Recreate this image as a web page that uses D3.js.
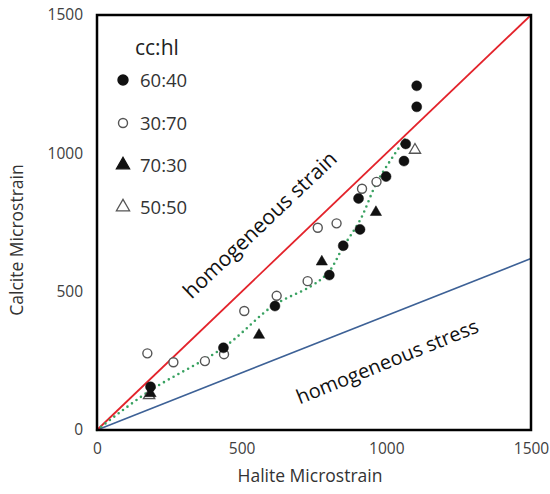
<!DOCTYPE html>
<html>
<head>
<meta charset="utf-8">
<script src="https://cdn.jsdelivr.net/npm/d3@7"></script>
<style>
  body { margin: 0; background: #fff; }
  svg text { font-family: "Open Sans", sans-serif; }
</style>
</head>
<body>
<div id="chart"></div>
<script>
// values
var series = ["60:40", "30:70", "70:30", "50:50"];
var ticks = [0, 500, 1000, 1500];

var filledCircles = [[185, 156], [437, 297], [615, 448], [803, 560], [851, 666], [909, 725],
  [904, 837], [999, 916], [1061, 972], [1067, 1034], [1105, 1168], [1105, 1244]];
var openCircles = [[174, 277], [264, 245], [373, 249], [439, 274], [509, 430], [621, 485],
  [728, 538], [763, 731], [828, 747], [916, 872], [966, 897]];
var filledTriangles = [[185, 132], [560, 343], [777, 608], [964, 787]];
var openTriangles = [[180, 125], [1099, 1012]];

var trend = [[0, 0], [180, 140], [440, 300], [610, 450], [740, 520], [800, 570],
  [850, 660], [910, 760], [970, 900], [1070, 1060]];

var strainLine = [[0, 0], [1500, 1500]];
var stressLine = [[0, 0], [1500, 620]];

var width = 550, height = 494;

var svg = d3.select('#chart').append('svg')
  .attr('width', width)
  .attr('height', height);

var x = d3.scaleLinear().domain([0, 1500]).range([97, 531]);
var y = d3.scaleLinear().domain([0, 1500]).range([430, 15]);

var line = d3.line()
  .x(function(d) { return x(d[0]); })
  .y(function(d) { return y(d[1]); });

// axes (labels only)
var xAxis = svg.append('g')
  .attr('transform', 'translate(0,430)')
  .call(d3.axisBottom(x).tickValues(ticks).tickSize(0).tickPadding(13).tickFormat(d3.format('d')));
var yAxis = svg.append('g')
  .attr('transform', 'translate(97,0)')
  .call(d3.axisLeft(y).tickValues(ticks).tickSize(0).tickPadding(14).tickFormat(d3.format('d')));
[xAxis, yAxis].forEach(function(a) {
  a.select('.domain').remove();
  a.selectAll('text').style('font-size', '15.5px').attr('fill', '#404040')
    .style('font-family', '"Open Sans", sans-serif');
});

// reference lines
svg.append('path').attr('d', line(stressLine))
  .attr('stroke', '#3d6196').attr('stroke-width', 1.6).attr('fill', 'none');
svg.append('path').attr('d', line(strainLine))
  .attr('stroke', '#e3232b').attr('stroke-width', 1.8).attr('fill', 'none');

// trend curve
svg.append('path')
  .attr('d', line.curve(d3.curveCatmullRom)(trend))
  .attr('stroke', '#3aa262').attr('stroke-width', 2.6)
  .attr('stroke-dasharray', '0,5.5').attr('stroke-linecap', 'round')
  .attr('fill', 'none');

var tri = d3.symbol().type(d3.symbolTriangle).size(55);

function drawCircles(data, filled) {
  svg.append('g').selectAll('circle').data(data).enter().append('circle')
    .attr('cx', function(d) { return x(d[0]); })
    .attr('cy', function(d) { return y(d[1]); })
    .attr('r', filled ? 5 : 4.5)
    .attr('fill', filled ? '#111' : '#fff')
    .attr('stroke', filled ? '#111' : '#555')
    .attr('stroke-width', filled ? 0.5 : 1.4);
}
function drawTriangles(data, filled) {
  svg.append('g').selectAll('path').data(data).enter().append('path')
    .attr('d', tri)
    .attr('transform', function(d) { return 'translate(' + x(d[0]) + ',' + y(d[1]) + ')'; })
    .attr('fill', filled ? '#111' : '#fff')
    .attr('stroke', filled ? '#111' : '#555')
    .attr('stroke-width', filled ? 0.5 : 1.3);
}
drawCircles(openCircles, false);
drawTriangles(openTriangles, false);
drawTriangles(filledTriangles, true);
drawCircles(filledCircles, true);

// line labels
svg.append('text')
  .attr('transform', 'translate(265,230) rotate(-43.5)')
  .attr('text-anchor', 'middle')
  .style('font-size', '21px').attr('fill', '#111')
  .text('homogeneous strain');
svg.append('text')
  .attr('transform', 'translate(390,368) rotate(-22)')
  .attr('text-anchor', 'middle')
  .style('font-size', '20px').attr('fill', '#111')
  .text('homogeneous stress');

// legend
svg.append('text').attr('x', 135).attr('y', 55)
  .style('font-size', '21px').attr('fill', '#222').text('cc:hl');
var legendY = [80, 123, 165, 207];
series.forEach(function(s, i) {
  var g = svg.append('g').attr('transform', 'translate(123,' + legendY[i] + ')');
  if (i < 2) {
    g.append('circle').attr('r', i === 0 ? 5 : 4.5)
      .attr('fill', i === 0 ? '#111' : '#fff')
      .attr('stroke', i === 0 ? '#111' : '#555').attr('stroke-width', 1.4);
  } else {
    g.append('path').attr('d', d3.symbol().type(d3.symbolTriangle).size(75))
      .attr('fill', i === 2 ? '#111' : '#fff')
      .attr('stroke', i === 2 ? '#111' : '#555').attr('stroke-width', 1.3);
  }
  g.append('text').attr('x', 17).attr('y', 6.5)
    .style('font-size', '18.5px').attr('fill', '#333').text(s);
});

// frame
svg.append('rect').attr('x', 97).attr('y', 15).attr('width', 434).attr('height', 415)
  .attr('fill', 'none').attr('stroke', '#000').attr('stroke-width', 2.5);

// axis titles
svg.append('text').attr('x', 310).attr('y', 482).attr('text-anchor', 'middle')
  .style('font-size', '17.5px').attr('fill', '#333').text('Halite Microstrain');
svg.append('text').attr('transform', 'translate(23,240) rotate(-90)')
  .attr('text-anchor', 'middle')
  .style('font-size', '17.5px').attr('fill', '#333').text('Calcite Microstrain');
</script>
</body>
</html>
